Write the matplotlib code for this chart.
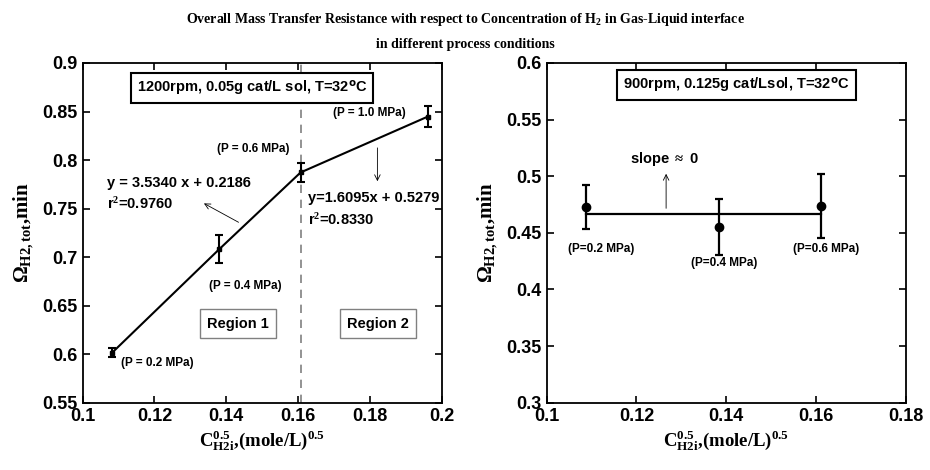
import matplotlib
matplotlib.use("Agg")
import matplotlib.pyplot as plt
from matplotlib.ticker import FuncFormatter

# Left panel: 1200 rpm, 0.05 g cat/L sol
x_left = [0.1082, 0.1380, 0.1607, 0.1961]
y_left = [0.6015, 0.7080, 0.7872, 0.8447]
err_left = [0.0048, 0.0144, 0.0100, 0.0107]
p_left = ["(P = 0.2 MPa)", "(P = 0.4 MPa)", "(P = 0.6 MPa)", "(P = 1.0 MPa)"]

# Right panel: 900 rpm, 0.125 g cat/L sol
x_right = [0.1087, 0.1383, 0.1611]
y_right = [0.4727, 0.4553, 0.4739]
err_right = [0.0196, 0.0250, 0.0285]
fit_right = 0.467
p_right = ["(P=0.2 MPa)", "(P=0.4 MPa)", "(P=0.6 MPa)"]

plt.rcParams['font.family'] = 'Liberation Sans'
plt.rcParams['font.weight'] = 'bold'
plt.rcParams['mathtext.fontset'] = 'custom'
plt.rcParams['mathtext.rm'] = 'Liberation Serif:bold'
plt.rcParams['mathtext.it'] = 'Liberation Serif:bold'
plt.rcParams['mathtext.bf'] = 'Liberation Serif:bold'

fig = plt.figure(figsize=(9.3, 4.7), dpi=100)
ax1 = fig.add_axes([0.0889, 0.1432, 0.386, 0.7228])
ax2 = fig.add_axes([0.5878, 0.1432, 0.3863, 0.7228])

fig.text(0.5, 0.958, r"Overall Mass Transfer Resistance with respect to Concentration of H$_2$ in Gas-Liquid interface",
         ha='center', va='center', fontsize=10, family='Liberation Serif', weight='bold')
fig.text(0.5, 0.905, "in different process conditions",
         ha='center', va='center', fontsize=10, family='Liberation Serif', weight='bold')

ylab = r"$\Omega_{\mathrm{H2,tot}}$,min"
xlab = r"$\mathrm{C}^{0.5}_{\mathrm{H2i}}$,(mole/L)$^{0.5}$"

fmt = FuncFormatter(lambda v, pos: "%g" % round(v, 4))

for ax in (ax1, ax2):
    ax.tick_params(direction='in', top=True, right=True, labelsize=13, width=1.2, length=5)
    for s in ax.spines.values():
        s.set_linewidth(1.3)
    ax.xaxis.set_major_formatter(fmt)
    ax.yaxis.set_major_formatter(fmt)
    for lab in ax.get_xticklabels() + ax.get_yticklabels():
        lab.set_fontweight('bold')
    ax.set_ylabel(ylab, fontsize=15, family='Liberation Serif', weight='bold', labelpad=5)
    ax.set_xlabel(xlab, fontsize=13.5, family='Liberation Serif', weight='bold', labelpad=3)

# ---- left panel
ax1.set_xlim(0.1, 0.2)
ax1.set_ylim(0.55, 0.9)
ax1.set_xticks([0.1, 0.12, 0.14, 0.16, 0.18, 0.2])
ax1.set_yticks([0.55, 0.6, 0.65, 0.7, 0.75, 0.8, 0.85, 0.9])
ax1.axvline(x_left[2], color='gray', ls='--', lw=1.2, dashes=(5, 4))
ax1.errorbar(x_left, y_left, yerr=err_left, color='black', lw=1.5, marker='s', ms=3,
             capsize=3, elinewidth=1.5, capthick=1.5)

ax1.text(0.1472, 0.8746, "1200rpm, 0.05g cat/L sol, T=32$^{\\mathsf{o}}$C", ha='center', va='center',
         fontsize=10.5, bbox=dict(boxstyle='square,pad=0.4', fc='white', ec='black', lw=1.5))
ax1.text(0.1798, 0.8482, p_left[3], ha='center', va='center', fontsize=8.5)
ax1.text(0.1475, 0.8110, p_left[2], ha='center', va='center', fontsize=8.5)
ax1.text(0.1454, 0.6706, p_left[1], ha='center', va='center', fontsize=8.5)
ax1.text(0.1107, 0.5913, p_left[0], ha='left', va='center', fontsize=8.5)

ax1.text(0.1067, 0.7760, "y = 3.5340 x + 0.2186", ha='left', va='center', fontsize=10.5)
ax1.text(0.1067, 0.7547, "r$^2$=0.9760", ha='left', va='center', fontsize=10.5)
ax1.annotate("", xy=(0.1331, 0.7567), xytext=(0.1441, 0.7345),
             arrowprops=dict(arrowstyle='->', color='black', lw=0.6))
ax1.text(0.1628, 0.7611, "y=1.6095x + 0.5279", ha='left', va='center', fontsize=10.5)
ax1.text(0.1628, 0.7383, "r$^2$=0.8330", ha='left', va='center', fontsize=10.5)
ax1.annotate("", xy=(0.1821, 0.7753), xytext=(0.1821, 0.8154),
             arrowprops=dict(arrowstyle='->', color='black', lw=0.6))

ax1.text(0.1432, 0.6315, "Region 1", ha='center', va='center', fontsize=10.5,
         bbox=dict(boxstyle='square,pad=0.5', fc='white', ec='gray', lw=1))
ax1.text(0.1823, 0.6315, "Region 2", ha='center', va='center', fontsize=10.5,
         bbox=dict(boxstyle='square,pad=0.5', fc='white', ec='gray', lw=1))

# ---- right panel
ax2.set_xlim(0.1, 0.18)
ax2.set_ylim(0.3, 0.6)
ax2.set_xticks([0.1, 0.12, 0.14, 0.16, 0.18])
ax2.set_yticks([0.3, 0.35, 0.4, 0.45, 0.5, 0.55, 0.6])
ax2.plot([x_right[0], x_right[-1]], [fit_right, fit_right], color='black', lw=1.6)
ax2.errorbar(x_right, y_right, yerr=err_right, color='black', ls='none', marker='o', ms=6,
             capsize=3, elinewidth=1.6, capthick=1.6)

ax2.text(0.1423, 0.5805, "900rpm, 0.125g cat/Lsol, T=32$^{\\mathsf{o}}$C", ha='center', va='center',
         fontsize=10.5, bbox=dict(boxstyle='square,pad=0.4', fc='white', ec='black', lw=1.5))
ax2.text(0.1262, 0.5156, "slope $\\approx$ 0", ha='center', va='center', fontsize=10.5)
ax2.annotate("", xy=(0.1266, 0.5046), xytext=(0.1266, 0.4692),
             arrowprops=dict(arrowstyle='->', color='black', lw=0.6))
ax2.text(0.1122, 0.4353, p_right[0], ha='center', va='center', fontsize=8.5)
ax2.text(0.1395, 0.4231, p_right[1], ha='center', va='center', fontsize=8.5)
ax2.text(0.1622, 0.4353, p_right[2], ha='center', va='center', fontsize=8.5)

plt.savefig("out.png", dpi=100)
